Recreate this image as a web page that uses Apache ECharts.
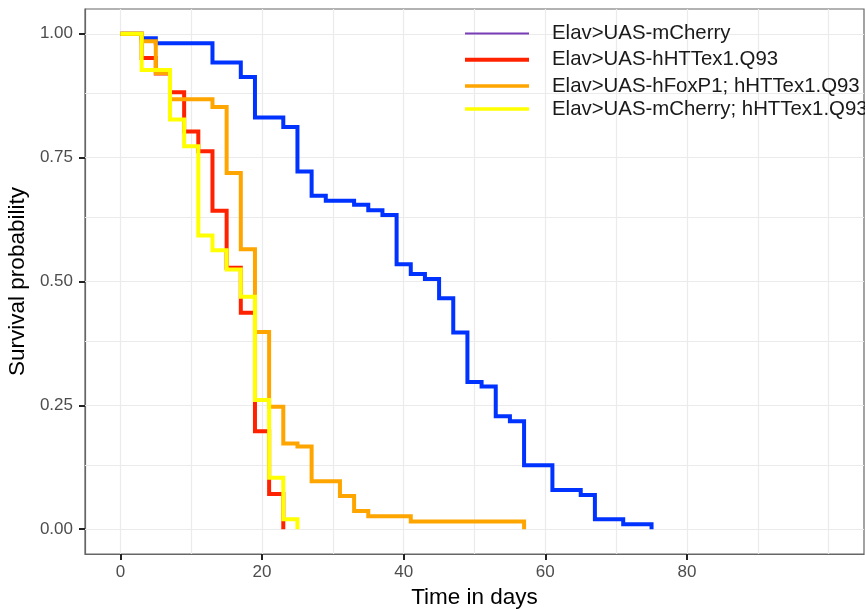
<!DOCTYPE html>
<html>
<head>
<meta charset="utf-8">
<title>Survival curves</title>
<script src="https://cdn.jsdelivr.net/npm/echarts@6/dist/echarts.min.js"></script>
<style>
  html, body { margin: 0; padding: 0; background: #ffffff; }
  #chart { width: 865px; height: 609px; }
</style>
</head>
<body>
<div id="chart"></div>
<script>
// Kaplan-Meier estimates: time (days) at which each step starts, and survival from then on
const seriesNames = [
  'Elav>UAS-mCherry',
  'Elav>UAS-hHTTex1.Q93',
  'Elav>UAS-hFoxP1; hHTTex1.Q93',
  'Elav>UAS-mCherry; hHTTex1.Q93'
];

const mCherryDays = [0, 3, 5, 13, 17, 19, 23, 25, 27, 29, 33, 35, 37, 39, 41, 43, 45, 47, 49, 51, 53, 55, 57, 61, 65, 67, 71, 75];
const mCherrySurv = [1, 0.991, 0.981, 0.942, 0.913, 0.831, 0.812, 0.722, 0.673, 0.663, 0.655, 0.644, 0.634, 0.535, 0.515, 0.505, 0.466, 0.397, 0.297, 0.288, 0.228, 0.218, 0.129, 0.079, 0.069, 0.020, 0.010, 0];

const httDays = [0, 3, 5, 7, 9, 11, 13, 15, 17, 19, 21, 23];
const httSurv = [1, 0.951, 0.920, 0.882, 0.803, 0.763, 0.643, 0.528, 0.437, 0.198, 0.071, 0];

const foxDays = [0, 3, 5, 7, 13, 15, 17, 19, 21, 23, 25, 27, 31, 33, 35, 41, 57];
const foxSurv = [1, 0.985, 0.921, 0.868, 0.852, 0.719, 0.565, 0.398, 0.247, 0.173, 0.167, 0.097, 0.067, 0.037, 0.026, 0.0155, 0];

const mchHttDays = [0, 3, 7, 9, 11, 13, 15, 17, 19, 21, 23, 25];
const mchHttSurv = [1, 0.927, 0.827, 0.773, 0.593, 0.563, 0.524, 0.469, 0.261, 0.104, 0.020, 0];

// axis ticks and grid positions
const xTickLabels = [0, 20, 40, 60, 80];
const yTickLabels = [0, 0.25, 0.5, 0.75, 1];
const xGridValues = [0, 10, 20, 30, 40, 50, 60, 70, 80, 90, 100];
const yGridValues = [0, 0.125, 0.25, 0.375, 0.5, 0.625, 0.75, 0.875, 1];

const lineColors = ['#0033ff', '#ff2200', '#ffa500', '#ffff00'];
const legendColors = ['#7a3db8', '#ff2200', '#ffa500', '#ffff00'];
const legendWidths = [2, 4, 3.5, 3.5];
const legendRowCenters = [32.5, 58.7, 85, 108];

const FONT = '"Liberation Sans", Arial, Helvetica, sans-serif';

function pairs(xs, ys) {
  return xs.map((x, i) => [x, ys[i]]);
}

const curveData = [
  pairs(mCherryDays, mCherrySurv),
  pairs(httDays, httSurv),
  pairs(foxDays, foxSurv),
  pairs(mchHttDays, mchHttSurv)
];

const gridLineStyle = { color: '#ebebeb', width: 1.2, type: 'solid' };

const series = [
  {
    // panel grid lines
    type: 'line',
    name: '__grid',
    data: [],
    silent: true,
    z: 1,
    markLine: {
      silent: true,
      symbol: ['none', 'none'],
      z: 1,
      label: { show: false },
      emphasis: { disabled: true },
      lineStyle: gridLineStyle,
      animation: false,
      data: xGridValues.map(v => ({ xAxis: v }))
        .concat(yGridValues.map(v => ({ yAxis: v })))
    }
  }
].concat(seriesNames.map((name, i) => ({
  type: 'line',
  name: name,
  data: curveData[i],
  step: 'end',
  symbol: 'none',
  z: 3 + i,
  lineStyle: { color: lineColors[i], width: 4, cap: 'butt', join: 'miter' },
  itemStyle: { color: lineColors[i] },
  emphasis: { disabled: true }
})));

// one legend block per row, each key drawn as a flat bar
const legends = seriesNames.map((name, i) => ({
  data: [{
    name: name,
    icon: 'rect',
    itemStyle: { color: legendColors[i], borderWidth: 0 }
  }],
  orient: 'vertical',
  left: 465,
  top: legendRowCenters[i] - 9,
  padding: 0,
  itemWidth: 64,
  itemHeight: legendWidths[i],
  selectedMode: false,
  textStyle: {
    fontFamily: FONT,
    fontSize: 20.4,
    color: '#1a1a1a',
    padding: [0, 0, 0, 18]
  }
}));

const axisLineStyle = { color: '#666666', width: 1.2 };
const tickStyle = { color: '#222222', width: 2 };

const option = {
  animation: false,
  backgroundColor: '#ffffff',
  textStyle: { fontFamily: FONT },
  legend: legends,
  grid: {
    left: 85,
    right: 1,
    top: 9,
    bottom: 55,
    show: true,
    borderColor: '#666666',
    borderWidth: 1.2,
    backgroundColor: 'transparent',
    containLabel: false,
    outerBoundsMode: 'none'
  },
  xAxis: {
    type: 'value',
    min: -5,
    max: 105,
    name: 'Time in days',
    nameLocation: 'middle',
    nameGap: 31,
    nameTextStyle: { fontFamily: FONT, fontSize: 22.5, color: '#000000' },
    axisLine: { show: true, onZero: false, lineStyle: axisLineStyle },
    axisTick: {
      show: true,
      inside: false,
      length: 6,
      customValues: xTickLabels,
      lineStyle: tickStyle
    },
    axisLabel: {
      customValues: xTickLabels,
      margin: 10,
      fontFamily: FONT,
      fontSize: 17,
      color: '#4d4d4d'
    },
    splitLine: { show: false }
  },
  yAxis: {
    type: 'value',
    min: -0.05,
    max: 1.05,
    name: 'Survival probability',
    nameLocation: 'middle',
    nameGap: 54,
    nameRotate: 90,
    nameTextStyle: { fontFamily: FONT, fontSize: 22.5, color: '#000000' },
    axisLine: { show: true, onZero: false, lineStyle: axisLineStyle },
    axisTick: {
      show: true,
      inside: false,
      length: 6,
      customValues: yTickLabels,
      lineStyle: tickStyle
    },
    axisLabel: {
      customValues: yTickLabels,
      margin: 12,
      fontFamily: FONT,
      fontSize: 17,
      color: '#4d4d4d',
      formatter: v => v.toFixed(2)
    },
    splitLine: { show: false }
  },
  series: series
};

const chart = echarts.init(document.getElementById('chart'), null, { renderer: 'canvas' });
chart.setOption(option);
</script>
</body>
</html>
